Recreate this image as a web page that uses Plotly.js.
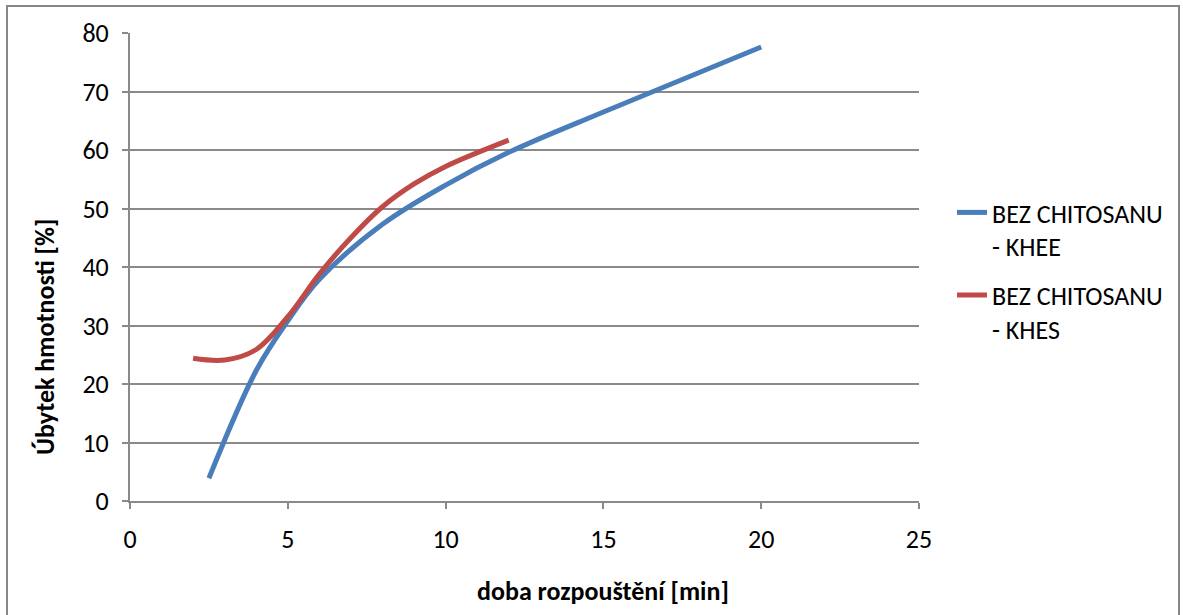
<!DOCTYPE html>
<html>
<head>
<meta charset="utf-8">
<script src="https://cdn.plot.ly/plotly-3.0.1.min.js"></script>
<style>
  html, body { margin: 0; padding: 0; background: #ffffff; }
  #chart { width: 1183px; height: 615px; }
</style>
</head>
<body>
<div id="chart"></div>
<script>
// Data
const seriesNames = ["BEZ CHITOSANU<br>- KHEE", "BEZ CHITOSANU<br>- KHES"];
const khee_x = [2.5, 4, 5, 6, 8, 10, 12, 15, 20];
const khee_y = [3.9, 22.3, 30.8, 37.9, 47.3, 54.0, 59.6, 66.5, 77.6];
const khes_x = [2, 3, 4, 5, 6, 7, 8, 9, 10, 12];
const khes_y = [24.4, 24.1, 25.9, 31.5, 38.8, 45.0, 50.3, 54.2, 57.2, 61.7];
const xTicks = [0, 5, 10, 15, 20, 25];
const yTicks = [0, 10, 20, 30, 40, 50, 60, 70, 80];
const xTitle = "doba rozpouštění [min]";
const yTitle = "Úbytek hmotnosti [%]";

const FONT = "Carlito, Calibri, Lato, 'Open Sans', sans-serif";
const GRID = "#8a8a8a";
const FS = 26;

const traces = [
  { x: khee_x, y: khee_y, name: seriesNames[0], mode: "lines", legendgroup: "g1",
    line: { color: "#4a7ebb", width: 5, shape: "spline", smoothing: 1 } },
  { x: khes_x, y: khes_y, name: seriesNames[1], mode: "lines", legendgroup: "g2",
    line: { color: "#be4b48", width: 5, shape: "spline", smoothing: 1 } }
];

// plot area: x 130..919, y 33..501
const L = 130, R = 919, T = 33, B = 501, W = 1183, H = 615;
const pw = R - L, ph = B - T;
const px = v => (v - L) / pw;
const py = v => (B - v) / ph;

const layout = {
  width: W, height: H,
  margin: { l: L, r: W - R, t: T, b: H - B, pad: 0 },
  paper_bgcolor: "#ffffff",
  plot_bgcolor: "#ffffff",
  font: { family: FONT, size: FS, color: "#000000" },
  showlegend: true,
  legend: {
    x: px(952), y: py(189), xanchor: "left", yanchor: "top",
    font: { family: FONT, size: FS, color: "#000000" },
    bgcolor: "rgba(0,0,0,0)", borderwidth: 0,
    tracegroupgap: 12, valign: "top", itemwidth: 30
  },
  xaxis: {
    range: [0, 25], tickvals: xTicks, ticktext: xTicks.map(String),
    showgrid: false, zeroline: false,
    showline: true, linecolor: GRID, linewidth: 2,
    ticks: "outside", ticklen: 6, tickwidth: 2, tickcolor: GRID,
    ticklabelstandoff: 8,
    tickfont: { family: FONT, size: FS, color: "#000000" },
    fixedrange: true
  },
  yaxis: {
    range: [0, 80], tickvals: yTicks, ticktext: yTicks.map(String),
    showgrid: true, gridcolor: GRID, gridwidth: 2,
    zeroline: false,
    showline: true, linecolor: GRID, linewidth: 2,
    ticks: "outside", ticklen: 6, tickwidth: 2, tickcolor: GRID,
    ticklabelstandoff: 8,
    tickfont: { family: FONT, size: FS, color: "#000000" },
    fixedrange: true
  },
  annotations: [
    { text: "<b>" + xTitle + "</b>", xref: "paper", yref: "paper",
      x: px(603), y: py(591), xanchor: "center", yanchor: "middle",
      showarrow: false, font: { family: FONT, size: FS, color: "#000000" } },
    { text: "<b>" + yTitle + "</b>", xref: "paper", yref: "paper",
      x: px(45), y: py(337), xanchor: "center", yanchor: "middle", textangle: -90,
      showarrow: false, font: { family: FONT, size: FS, color: "#000000" } }
  ],
  shapes: [
    { type: "rect", xref: "paper", yref: "paper",
      x0: px(7), x1: px(1179), y0: py(625), y1: py(6),
      line: { color: "#878787", width: 2 }, fillcolor: "rgba(0,0,0,0)", layer: "below" }
  ]
};

Plotly.newPlot("chart", traces, layout, { displayModeBar: false, staticPlot: true });
</script>
</body>
</html>
